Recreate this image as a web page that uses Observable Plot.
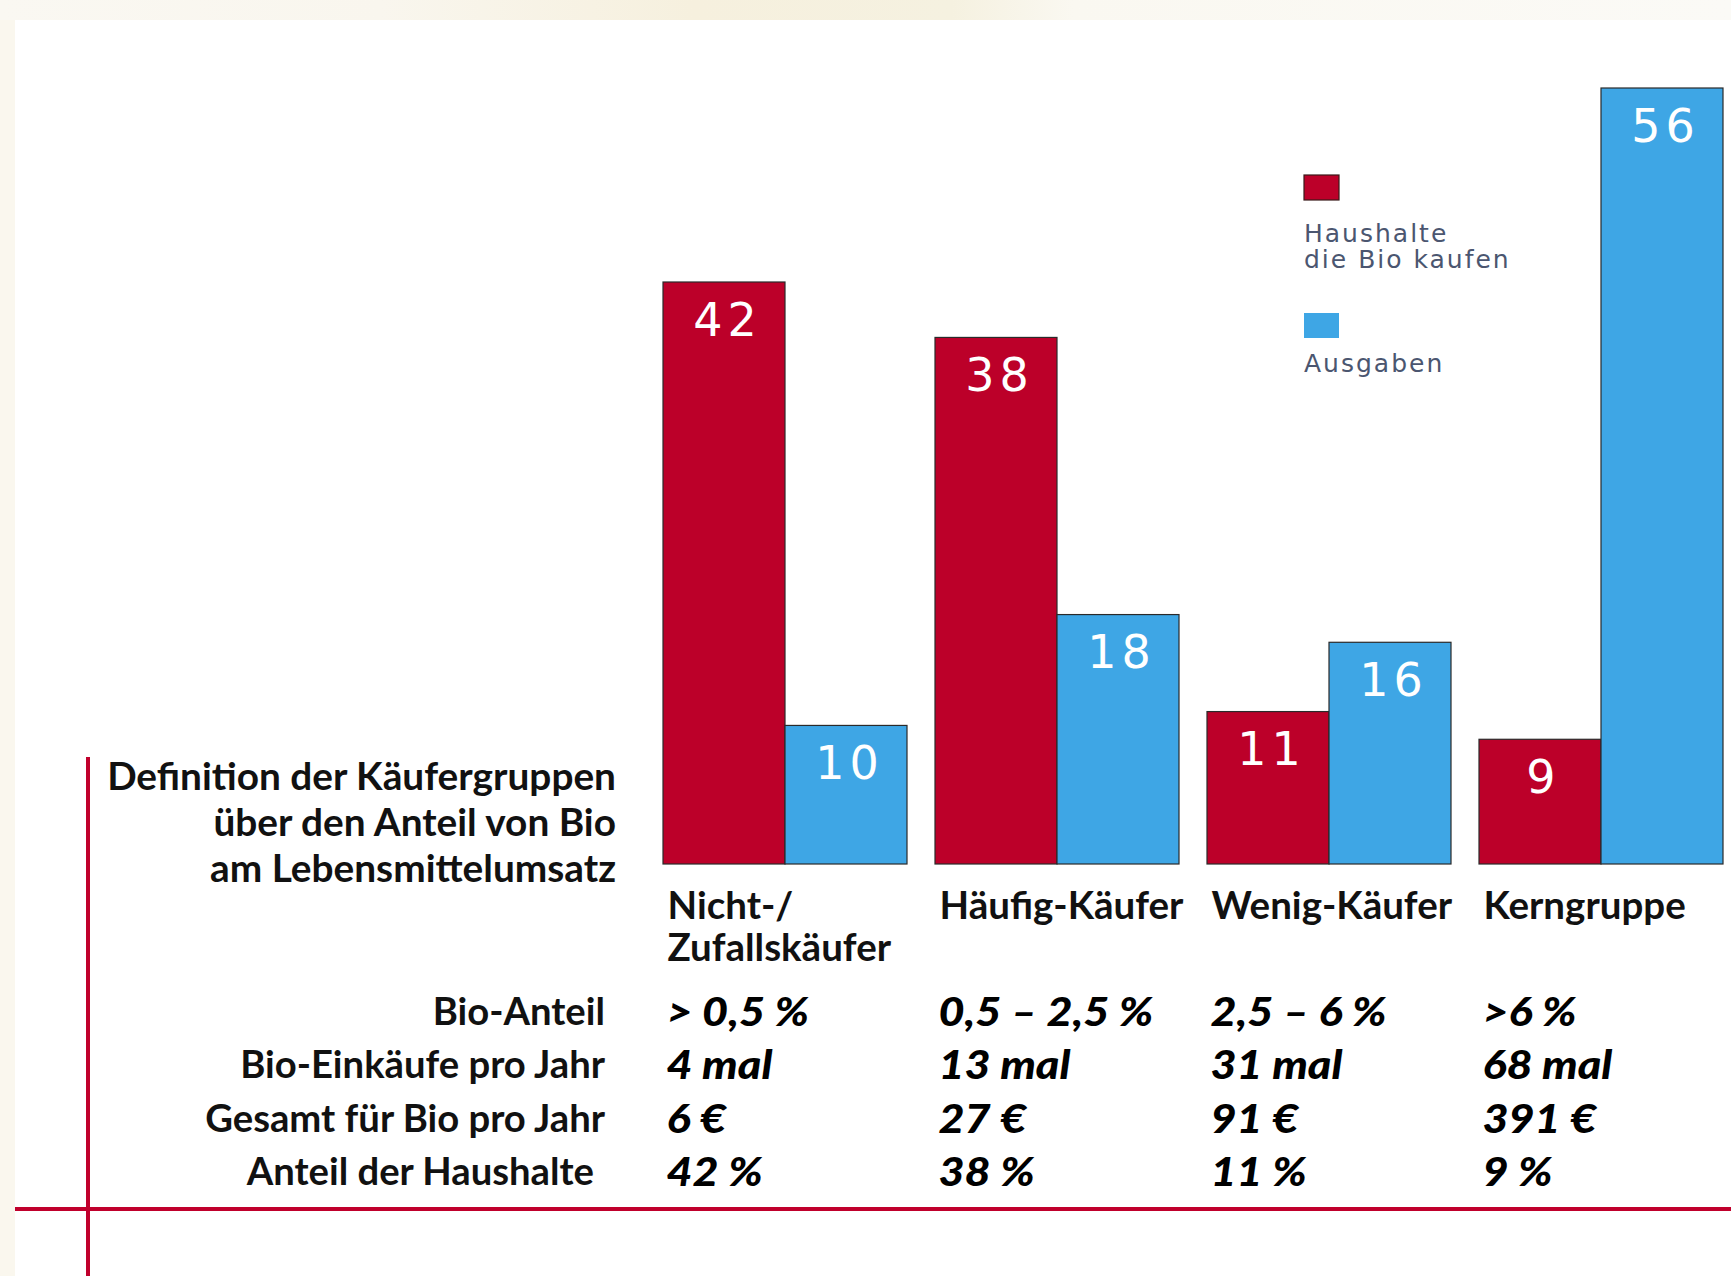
<!DOCTYPE html>
<html><head><meta charset="utf-8">
<script src="https://cdn.jsdelivr.net/npm/d3@7"></script>
<script src="https://cdn.jsdelivr.net/npm/@observablehq/plot@0.6"></script>
<style>
html,body{margin:0;padding:0;background:#fff;}
#page{position:relative;width:1731px;height:1276px;overflow:hidden;background:#faf7ee;}
#white{position:absolute;left:15px;top:20px;right:0;bottom:0;background:#fff;}
#topband{position:absolute;left:0;top:0;width:1731px;height:20px;background:linear-gradient(90deg,#faf8f2 0%,#f9f6ee 22%,#f6f0de 40%,#f5f1e0 55%,#faf8f1 62%,#fbfaf6 100%);}
#chart{position:absolute;left:0;top:0;}
</style>
</head><body>
<div id="page"><div id="topband"></div><div id="white"></div><div id="chart"></div></div>
<script>
// ---- data ----
const groups = ["Nicht-/\nZufallskäufer", "Häufig-Käufer", "Wenig-Käufer", "Kerngruppe"];
const series = ["Haushalte die Bio kaufen", "Ausgaben"];
const haushalte = [42, 38, 11, 9];
const ausgaben = [10, 18, 16, 56];
const colors = ["#bc0029", "#3ea6e5"];
const legendLines = [["Haushalte", "die Bio kaufen"], ["Ausgaben"]];
const titleLines = ["Definition der Käufergruppen", "über den Anteil von Bio", "am Lebensmittelumsatz"];
const rowLabels = ["Bio-Anteil", "Bio-Einkäufe pro Jahr", "Gesamt für Bio pro Jahr", "Anteil der Haushalte"];
const bioAnteil = ["> 0,5 %", "0,5 – 2,5 %", "2,5 – 6 %", ">6 %"];
const einkaeufe = ["4 mal", "13 mal", "31 mal", "68 mal"];
const gesamt = ["6 €", "27 €", "91 €", "391 €"];
const anteilHaushalte = ["42 %", "38 %", "11 %", "9 %"];

// ---- build ----
const bars = groups.flatMap((g, i) => [
  {group: g, series: series[0], value: haushalte[i]},
  {group: g, series: series[1], value: ausgaben[i]}
]);
const cats = groups.map(g => ({group: g}));
const tableRows = [bioAnteil, einkaeufe, gesamt, anteilHaushalte];
const rowDy = [161, 214, 268, 321];
const lato = "Lato, 'Open Sans', sans-serif";

const chart = Plot.plot({
  width: 1731, height: 1276,
  marginLeft: 662, marginRight: 8, marginTop: 88, marginBottom: 412,
  style: {background: "transparent", overflow: "visible"},
  fx: {domain: groups, paddingInner: 0.103, paddingOuter: 0, axis: null, label: null},
  x: {domain: series, padding: 0, axis: null},
  y: {domain: [0, 56], axis: null},
  color: {domain: series, range: colors},
  marks: [
    Plot.barY(bars, {fx: "group", x: "series", y: "value", fill: "series", stroke: "#2a2a2a", strokeWidth: 1.2}),
    Plot.text(bars, {fx: "group", x: "series", y: "value", text: d => String(d.value), dy: 53, dx: 3, lineAnchor: "bottom",
      fill: "white", fontSize: 46, fontFamily: "'DejaVu Sans', Verdana, sans-serif"}),
    Plot.text(cats, {fx: "group", frameAnchor: "bottom-left", text: "group", dx: 4, dy: 24, lineAnchor: "top", textAnchor: "start",
      fontSize: 40, lineHeight: 1.1, fontFamily: lato, fontWeight: "bold", fill: "#111"}),
    ...tableRows.map((row, k) => Plot.text(row.map((t, i) => ({group: groups[i], t})), {
      fx: "group", frameAnchor: "bottom-left", text: "t", dx: 3, dy: rowDy[k], lineAnchor: "bottom", textAnchor: "start",
      fontSize: 39, fontStyle: "italic", fontWeight: 900, fontFamily: lato, fill: "#000"}))
  ]
});
document.getElementById("chart").appendChild(chart);

const svg = d3.select(chart);

// ---- typographic calibration to the reference's faces ----
const allTexts = svg.selectAll("text").nodes();
const catSet = new Set(groups.map(g => g.replace("\n", "")));
const tableSet = new Set(tableRows.flat());
const valueSet = new Set(bars.map(d => String(d.value)));
const catNodes = allTexts.filter(n => catSet.has(n.textContent));
const tableNodes = allTexts.filter(n => tableSet.has(n.textContent));
const valueNodes = allTexts.filter(n => valueSet.has(n.textContent));

const catRef = catNodes.find(n => n.textContent === "Häufig-Käufer");
if (catRef) {
  const w = catRef.getComputedTextLength();
  if (w > 0) catNodes.forEach(n => n.setAttribute("font-size", 40 * 244 / w));
}
const tabRef = tableNodes.find(n => n.textContent === "0,5 – 2,5 %");
if (tabRef) {
  const w = tabRef.getComputedTextLength();
  const s = w > 0 ? 215 / w : 1;
  tableNodes.forEach(n => {
    const t = n.getAttribute("transform") || "";
    n.setAttribute("transform", `${t} scale(${s},1)`);
  });
}
valueNodes.forEach(n => { n.style.letterSpacing = "5px"; });

// ---- annotations (title, row labels, legend, rules) ----
const ann = svg.append("g").attr("class", "annotations");
const red = "#c0002c";
ann.append("rect").attr("x", 86).attr("y", 757).attr("width", 4).attr("height", 519).attr("fill", red);
ann.append("rect").attr("x", 15).attr("y", 1207).attr("width", 1716).attr("height", 4).attr("fill", red);

function fitSize(sel, refText, target, base) {
  let w = null;
  sel.each(function() { if (this.textContent === refText) w = this.getComputedTextLength(); });
  if (w) sel.attr("font-size", base * target / w);
}
const titles = ann.selectAll("text.title").data(titleLines).join("text").attr("class", "title")
  .attr("x", 616).attr("y", (d, i) => 790 + i * 46).attr("text-anchor", "end")
  .attr("font-family", lato).attr("font-weight", 700).attr("font-size", 36).attr("fill", "#111").text(d => d);
fitSize(titles, titleLines[0], 509, 36);
const rowBase = [1025, 1078, 1132, 1185];
const rowRight = [605, 605, 605, 594];
const rows = ann.selectAll("text.row").data(rowLabels).join("text").attr("class", "row")
  .attr("x", (d, i) => rowRight[i]).attr("y", (d, i) => rowBase[i]).attr("text-anchor", "end")
  .attr("font-family", lato).attr("font-weight", 700).attr("font-size", 36).attr("fill", "#111").text(d => d);
fitSize(rows, rowLabels[1], 365, 36);

// legend
const legTop = [175, 313];
const legTextOff = [67, 59];
const leg = ann.append("g").attr("font-family", "'DejaVu Sans', Verdana, sans-serif").attr("font-size", 25)
  .attr("fill", "#4b5670").attr("text-anchor", "start").style("letter-spacing", "2px");
series.forEach((s, k) => {
  leg.append("rect").attr("x", 1304).attr("y", legTop[k]).attr("width", 35).attr("height", 25)
    .attr("fill", colors[k]).attr("stroke", k === 0 ? "#3a1a1a" : "none").attr("stroke-width", 1.2);
  legendLines[k].forEach((line, j) => {
    leg.append("text").attr("x", 1304).attr("y", legTop[k] + legTextOff[k] + j * 26).text(line);
  });
});
</script>
</body></html>
